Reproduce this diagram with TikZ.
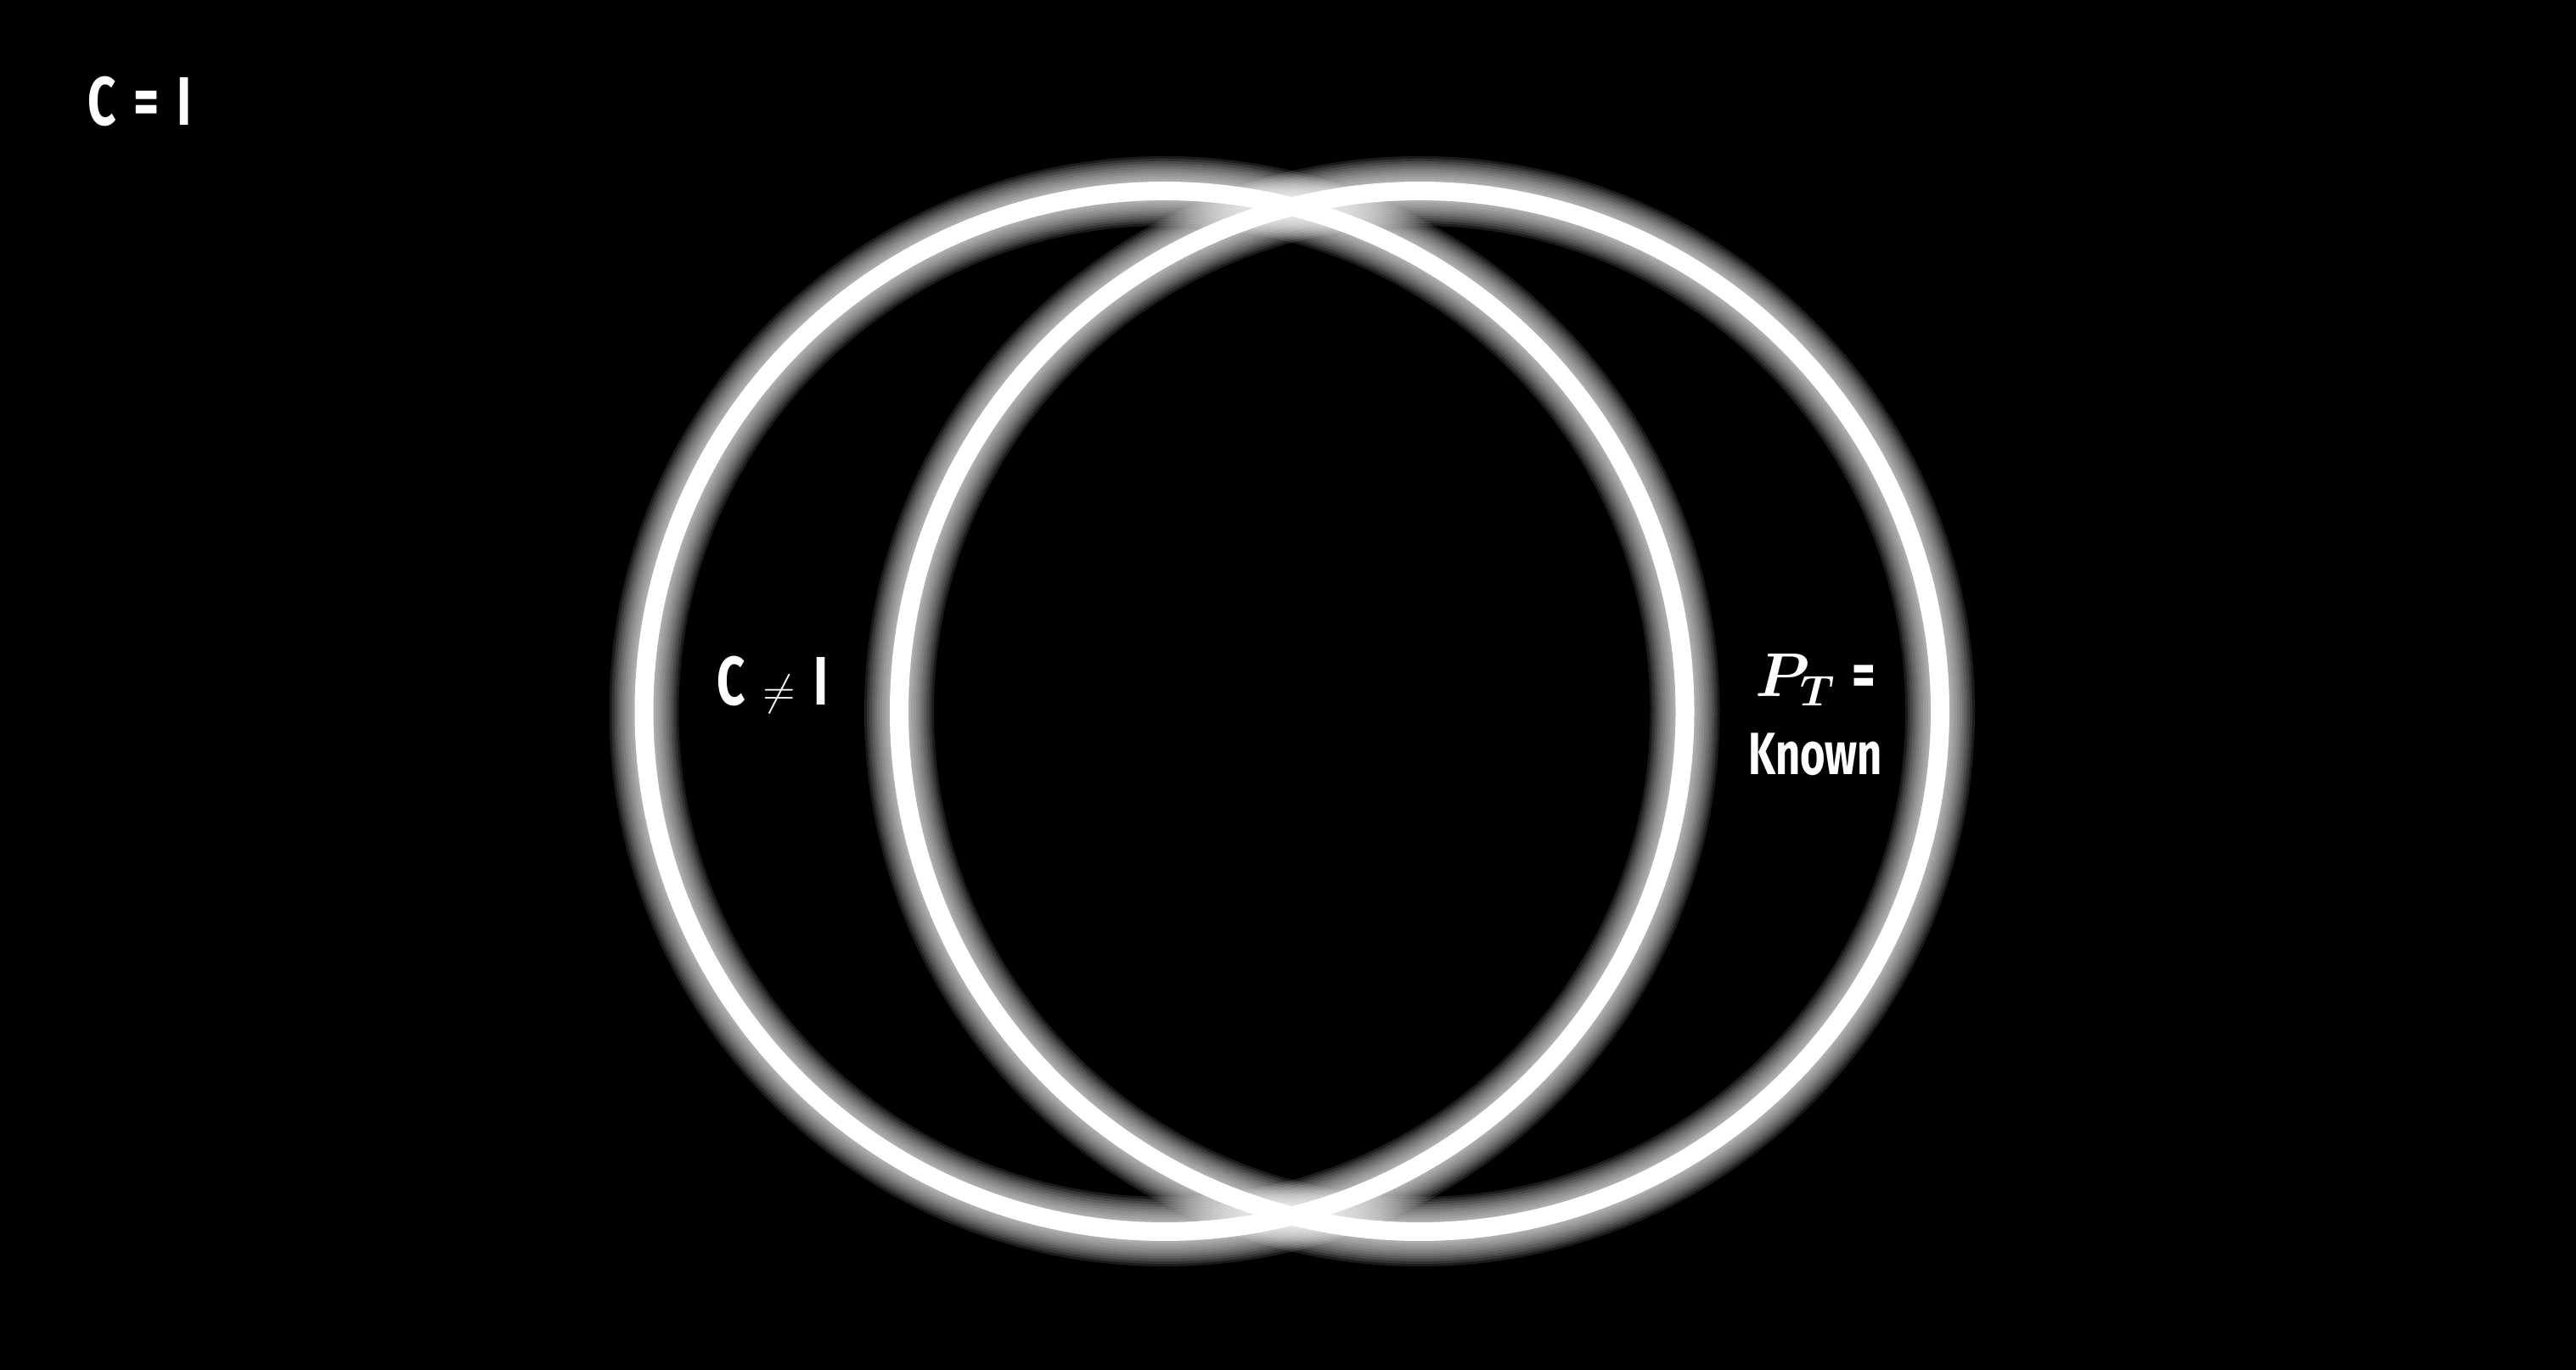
\documentclass[tikz,border=0pt]{standalone}
\usepackage{amsmath,amssymb}
\usepackage{fontspec}
\setmainfont{Fira Sans}[FakeStretch=0.72,WordSpace=1.5]
\usetikzlibrary{calc}

\begin{document}
\begin{tikzpicture}[
  glow/.style={draw=white,line width=#1,opacity=0.11},
  ring/.style={draw=white,line width=0.22cm},
  lbl/.style={text=white,inner sep=0pt,font=\bfseries\fontsize{23}{27}\selectfont}]
\fill[black] (0,0) rectangle (30.34,16.14);
\useasboundingbox (0,0) rectangle (30.34,16.14);
\coordinate (L) at (13.715,7.76); \coordinate (R) at (16.72,7.76);
% soft halo first, then the two rings
\foreach \w in {0.82,0.76,0.70,0.64,0.58,0.52,0.46,0.40,0.34,0.28}
  \foreach \c in {L,R}
    \draw[glow=\w cm] (\c) circle (6.13);
\draw[ring] (L) circle (6.13);
\draw[ring] (R) circle (6.13);
\node[lbl,anchor=west] (eq) at (1.03,14.94) {C = I};
\node[lbl] (neq) at (9.10,8.07) {C {\fontsize{15}{15}\selectfont$\neq$} I};
\node[lbl,align=center,font=\bfseries\boldmath\fontsize{20}{26}\selectfont] (pt) at (21.38,7.72)
  {\fontsize{21}{26}\selectfont$P_T$ =\\Known};
\end{tikzpicture}
\end{document}
